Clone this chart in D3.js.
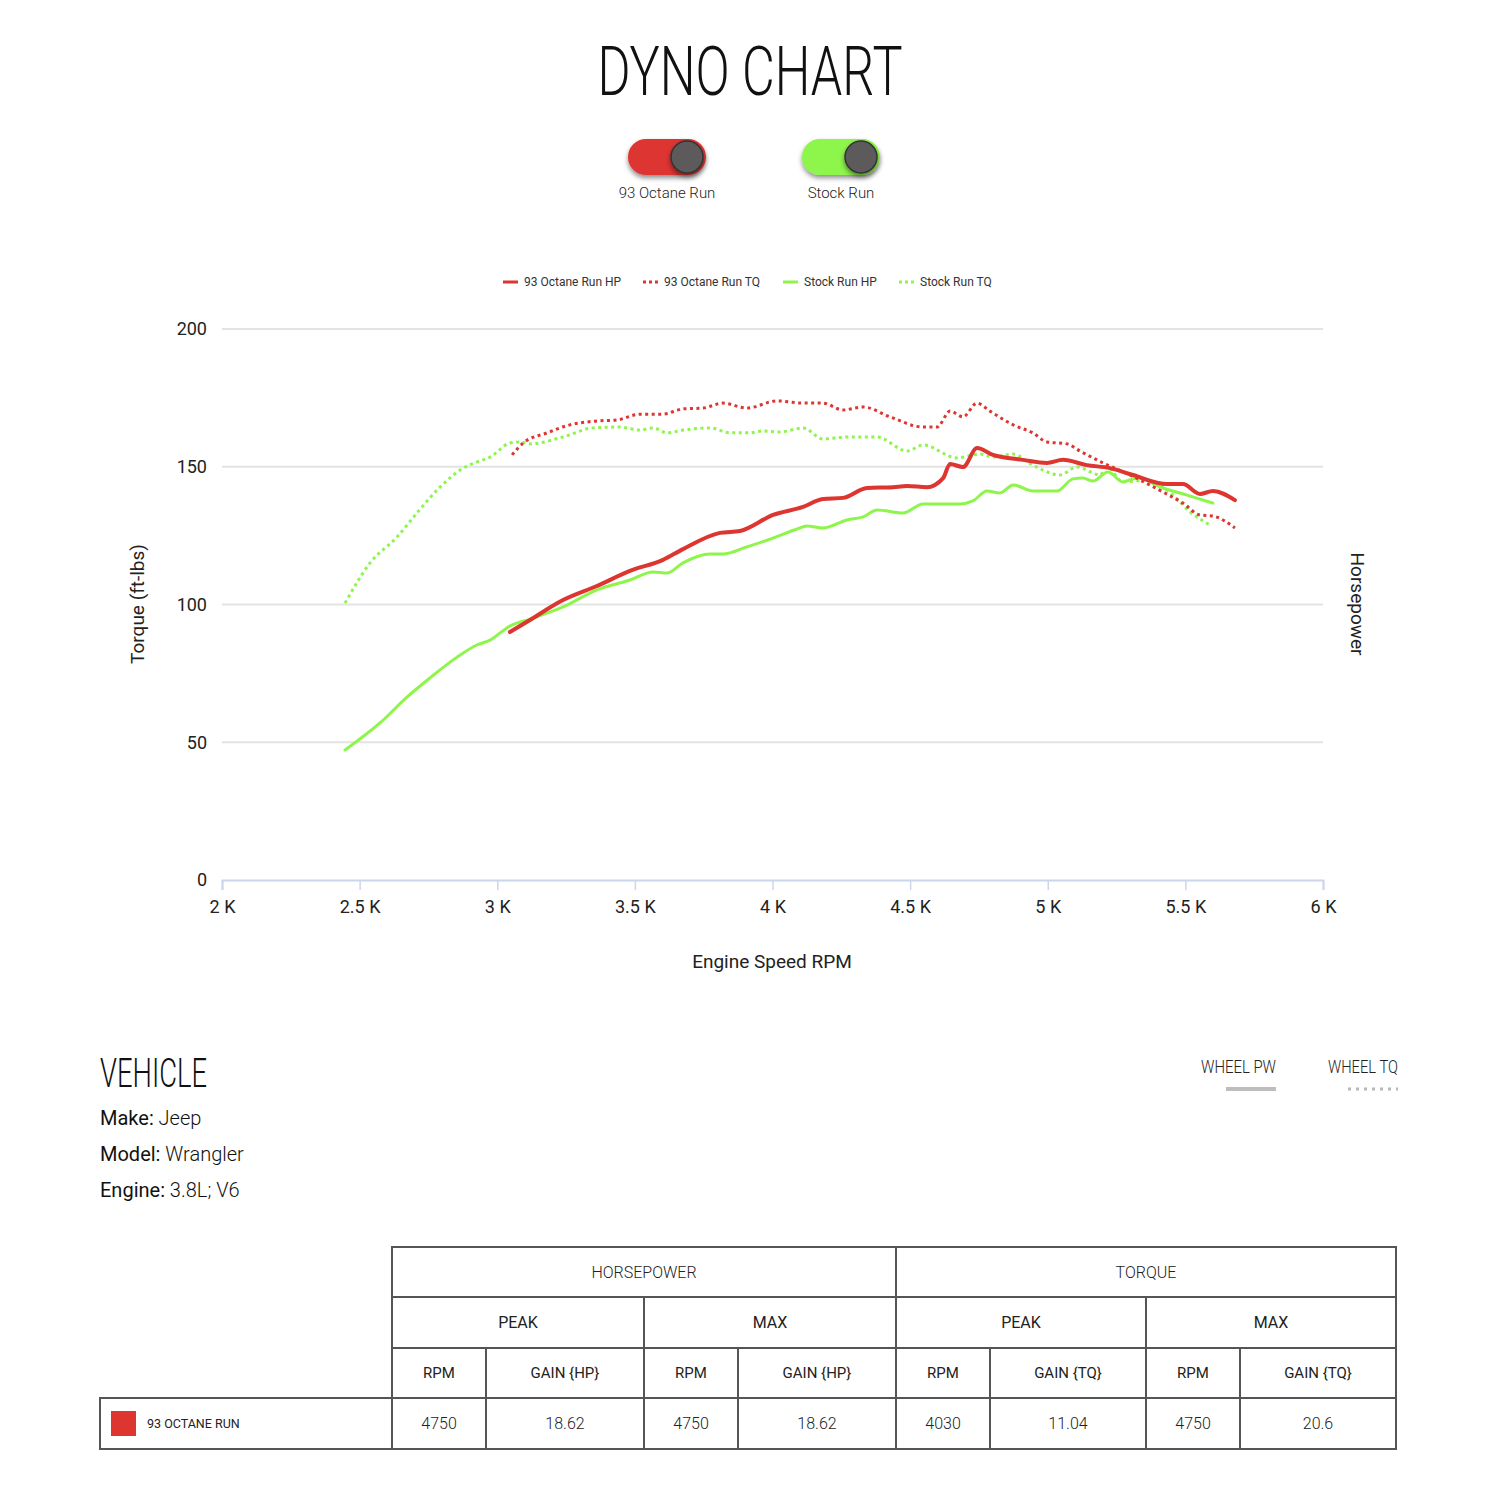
<!DOCTYPE html>
<html>
<head>
<meta charset="utf-8">
<script src="https://cdn.jsdelivr.net/npm/d3@7"></script>
<style>
  body { margin: 0; background: #fff; }
  svg { display: block; font-family: Roboto, "Noto Sans", sans-serif; }
</style>
</head>
<body>
<div id="dyno"></div>
<script>
// rpm, value pairs
const octaneHp = [
  [3046, 90.0], [3119, 94.4], [3239, 101.6], [3362, 106.7], [3482, 112.2], [3602, 116.2],
  [3675, 120.1], [3809, 126.0], [3882, 126.7], [4002, 132.5], [4111, 135.4], [4183, 138.3],
  [4256, 138.7], [4343, 142.3], [4438, 142.6], [4489, 143.0], [4561, 142.6], [4620, 145.9],
  [4645, 151.0], [4692, 149.9], [4743, 156.8], [4801, 154.3], [4910, 152.5], [4997, 151.4],
  [5055, 152.5], [5142, 150.6], [5226, 149.5], [5310, 147.0], [5433, 143.7], [5491, 143.7],
  [5553, 140.1], [5600, 141.2], [5680, 137.9]
];
const octaneTq = [
  [3054, 154.3], [3094, 158.6], [3181, 162.3], [3264, 165.2], [3362, 166.6], [3435, 167.0],
  [3519, 169.1], [3602, 169.1], [3675, 171.0], [3748, 171.3], [3820, 173.1], [3907, 171.3],
  [4016, 173.9], [4111, 173.1], [4183, 173.1], [4256, 170.6], [4329, 171.7], [4427, 168.1],
  [4547, 164.4], [4598, 164.4], [4645, 170.2], [4692, 168.1], [4743, 173.1], [4790, 170.2],
  [4874, 165.2], [4946, 162.3], [4997, 159.0], [5070, 158.3], [5117, 155.7], [5201, 151.4],
  [5299, 147.0], [5419, 140.8], [5491, 136.8], [5553, 132.5], [5600, 132.1], [5680, 127.8]
];
const stockHp = [
  [2447, 47.2], [2574, 57.0], [2672, 66.4], [2755, 73.3], [2854, 80.9], [2926, 85.3],
  [2974, 87.1], [3046, 92.2], [3119, 94.7], [3239, 99.1], [3362, 105.3], [3482, 108.9],
  [3566, 111.8], [3617, 111.4], [3675, 115.1], [3773, 118.3], [3820, 118.3], [3907, 120.9],
  [4002, 124.1], [4089, 127.4], [4125, 128.5], [4183, 127.8], [4271, 130.7], [4329, 131.8],
  [4380, 134.3], [4474, 133.2], [4547, 136.5], [4681, 136.5], [4728, 137.6], [4779, 141.2],
  [4827, 140.5], [4874, 143.4], [4946, 141.2], [5033, 141.2], [5092, 145.6], [5128, 145.9],
  [5164, 144.8], [5219, 148.1], [5273, 144.5], [5324, 145.9], [5419, 142.3], [5506, 139.7],
  [5600, 136.8]
];
const stockTq = [
  [2447, 100.5], [2538, 115.1], [2636, 124.5], [2708, 133.2], [2792, 142.6], [2876, 149.5],
  [2926, 151.7], [2974, 153.5], [3046, 158.6], [3083, 159.0], [3119, 158.3], [3239, 160.8],
  [3348, 164.1], [3446, 164.4], [3519, 163.3], [3566, 164.1], [3617, 162.3], [3675, 163.3],
  [3773, 164.1], [3846, 162.3], [3918, 162.3], [3965, 163.0], [4027, 162.6], [4111, 164.1],
  [4183, 160.1], [4271, 160.8], [4380, 160.8], [4489, 155.7], [4547, 157.9], [4670, 153.2],
  [4754, 154.6], [4801, 153.5], [4874, 154.6], [4946, 150.6], [5044, 147.0], [5106, 149.9],
  [5190, 147.0], [5215, 149.9], [5273, 144.5], [5361, 145.2], [5455, 139.7], [5517, 133.6],
  [5589, 128.9]
];

const runs = ["93 Octane Run", "Stock Run"];
const runColors = ["#dd3530", "#8ef54b"];
const seriesNames = ["93 Octane Run HP", "93 Octane Run TQ", "Stock Run HP", "Stock Run TQ"];
const rpmTicks = [2000, 2500, 3000, 3500, 4000, 4500, 5000, 5500, 6000];
const torqueTicks = [0, 50, 100, 150, 200];

const vehicleKeys = ["Make:", "Model:", "Engine:"];
const vehicleValues = ["Jeep", "Wrangler", "3.8L; V6"];

const groupHeaders = ["HORSEPOWER", "TORQUE"];
const subHeaders = ["PEAK", "MAX", "PEAK", "MAX"];
const colHeaders = ["RPM", "GAIN {HP}", "RPM", "GAIN {HP}", "RPM", "GAIN {TQ}", "RPM", "GAIN {TQ}"];
const rowLabels = ["93 OCTANE RUN"];
const rowValues = [["4750", "18.62", "4750", "18.62", "4030", "11.04", "4750", "20.6"]];

const width = 1500, height = 1500;
const svg = d3.select("#dyno").append("svg")
  .attr("width", width)
  .attr("height", height);

const defs = svg.append("defs");
defs.append("filter").attr("id", "shadow")
  .attr("x", "-30%").attr("y", "-30%").attr("width", "160%").attr("height", "180%")
  .append("feDropShadow")
  .attr("dx", 0).attr("dy", 3).attr("stdDeviation", 2.5)
  .attr("flood-color", "#000").attr("flood-opacity", 0.45);

// Title
svg.append("text")
  .attr("x", 750).attr("y", 95)
  .attr("text-anchor", "middle")
  .attr("textLength", 305).attr("lengthAdjust", "spacingAndGlyphs")
  .style("font-size", "68px").style("font-weight", 300)
  .attr("fill", "#111")
  .text("DYNO CHART");

// Run toggles
const toggle = svg.append("g").selectAll("g")
  .data(runs)
  .join("g")
  .attr("transform", (d, i) => `translate(${667 + i * 174}, 157)`);

toggle.append("rect")
  .attr("x", -39).attr("y", -18).attr("width", 78).attr("height", 36).attr("rx", 18)
  .attr("fill", (d, i) => runColors[i])
  .attr("filter", "url(#shadow)");
toggle.append("circle")
  .attr("cx", 20).attr("cy", 0).attr("r", 16)
  .attr("fill", "#5c5a5a")
  .attr("stroke", "#333").attr("stroke-width", 1.5)
  .attr("filter", "url(#shadow)");
toggle.append("text")
  .attr("y", 41)
  .attr("text-anchor", "middle")
  .style("font-size", "15px").style("font-weight", 300)
  .attr("fill", "#222")
  .text(d => d);

// Scales
const x = d3.scaleLinear().domain([2000, 6000]).range([222, 1323]);
const y = d3.scaleLinear().domain([0, 200]).range([880, 329]);

// Gridlines
svg.append("g").selectAll("line")
  .data(torqueTicks.filter(d => d > 0))
  .join("line")
  .attr("x1", x.range()[0]).attr("x2", x.range()[1])
  .attr("y1", d => y(d)).attr("y2", d => y(d))
  .attr("stroke", "#e3e3e3").attr("stroke-width", 2);

// Y labels
svg.append("g").selectAll("text")
  .data(torqueTicks)
  .join("text")
  .attr("x", 207).attr("y", d => y(d))
  .attr("dy", "0.35em")
  .attr("text-anchor", "end")
  .style("font-size", "18px")
  .attr("fill", "#222")
  .text(d => d);

// X axis
const xAxis = svg.append("g")
  .attr("transform", `translate(0, ${y(0)})`)
  .call(d3.axisBottom(x).tickValues(rpmTicks).tickSize(10).tickPadding(10)
    .tickFormat(d => d / 1000 + " K"));
xAxis.select(".domain").attr("stroke", "#ccd6eb").attr("stroke-width", 2);
xAxis.selectAll(".tick line").attr("stroke", "#ccd6eb").attr("stroke-width", 1.5);
xAxis.selectAll(".tick text")
  .attr("fill", "#222")
  .style("font-size", "18px")
  .style("font-family", "Roboto, sans-serif");

// Axis titles
svg.append("text")
  .attr("x", 772).attr("y", 968)
  .attr("text-anchor", "middle")
  .style("font-size", "19px")
  .attr("fill", "#222")
  .text("Engine Speed RPM");
svg.append("text")
  .attr("transform", "translate(144, 604) rotate(-90)")
  .attr("text-anchor", "middle")
  .style("font-size", "19px")
  .attr("fill", "#222")
  .text("Torque (ft-lbs)");
svg.append("text")
  .attr("transform", "translate(1351, 604) rotate(90)")
  .attr("text-anchor", "middle")
  .style("font-size", "19px")
  .attr("fill", "#222")
  .text("Horsepower");

// Lines
const line = d3.line()
  .x(d => x(d[0]))
  .y(d => y(d[1]))
  .curve(d3.curveMonotoneX);

const series = [
  { name: seriesNames[0], data: octaneHp, color: runColors[0], width: 4, dash: null },
  { name: seriesNames[1], data: octaneTq, color: runColors[0], width: 3, dash: "3,3.5" },
  { name: seriesNames[2], data: stockHp, color: runColors[1], width: 3, dash: null },
  { name: seriesNames[3], data: stockTq, color: runColors[1], width: 3, dash: "3,3.5" }
];
const drawOrder = [3, 2, 1, 0];

svg.append("g").selectAll("path")
  .data(drawOrder.map(i => series[i]))
  .join("path")
  .attr("d", d => line(d.data))
  .attr("fill", "none")
  .attr("stroke", d => d.color)
  .attr("stroke-width", d => d.width)
  .attr("stroke-dasharray", d => d.dash)
  .attr("stroke-linejoin", "round")
  .attr("stroke-linecap", d => d.dash ? "butt" : "round");

// Legend
const legendX = [503, 643, 783, 899];
const legend = svg.append("g").selectAll("g")
  .data(series)
  .join("g")
  .attr("transform", (d, i) => `translate(${legendX[i]}, 282)`);
legend.append("line")
  .attr("x1", 0).attr("x2", 15)
  .attr("stroke", d => d.color)
  .attr("stroke-width", 3)
  .attr("stroke-dasharray", d => d.dash ? "3,3" : null);
legend.append("text")
  .attr("x", 21).attr("dy", "0.35em")
  .style("font-size", "12px")
  .attr("fill", "#333")
  .text(d => d.name);

// Vehicle block
svg.append("text")
  .attr("x", 100).attr("y", 1087)
  .attr("textLength", 107).attr("lengthAdjust", "spacingAndGlyphs")
  .style("font-size", "40px").style("font-weight", 300)
  .attr("fill", "#111")
  .text("VEHICLE");

const vehicle = svg.append("g").selectAll("text")
  .data(vehicleKeys)
  .join("text")
  .attr("x", 100)
  .attr("y", (d, i) => 1125 + i * 36)
  .style("font-size", "20px")
  .attr("fill", "#111");
vehicle.append("tspan").style("font-weight", 400).text(d => d);
vehicle.append("tspan").style("font-weight", 300).text((d, i) => " " + vehicleValues[i]);

// Wheel PW / TQ key
const wheelKeys = ["WHEEL PW", "WHEEL TQ"];
const wheel = svg.append("g").selectAll("g")
  .data(wheelKeys)
  .join("g")
  .attr("transform", (d, i) => `translate(${1276 + i * 122}, 0)`);
wheel.append("text")
  .attr("y", 1073)
  .attr("text-anchor", "end")
  .attr("textLength", (d, i) => i ? 70 : 75).attr("lengthAdjust", "spacingAndGlyphs")
  .style("font-size", "18px").style("font-weight", 300)
  .attr("fill", "#222")
  .text(d => d);
wheel.append("line")
  .attr("x1", -50).attr("x2", 0)
  .attr("y1", 1089).attr("y2", 1089)
  .attr("stroke", (d, i) => i ? "#b8b8b8" : "#bdbdbd")
  .attr("stroke-width", (d, i) => i ? 3 : 4)
  .attr("stroke-dasharray", (d, i) => i ? "3,5" : null);

// Results table
const colEdges = [392, 486, 644, 738, 896, 990, 1146, 1240, 1396];
const rowEdges = [1247, 1297, 1348, 1398, 1449];
const borderColor = "#555";
const table = svg.append("g");

const cellText = (cx, cy, text, size, weight) => table.append("text")
  .attr("x", cx).attr("y", cy).attr("dy", "0.35em")
  .attr("text-anchor", "middle")
  .style("font-size", size).style("font-weight", weight)
  .attr("fill", "#222")
  .text(text);

const cells = [];
groupHeaders.forEach((t, i) => cells.push({ c0: i * 4, c1: i * 4 + 4, r: 0, text: t, size: "16px", weight: 300 }));
subHeaders.forEach((t, i) => cells.push({ c0: i * 2, c1: i * 2 + 2, r: 1, text: t, size: "16px", weight: 400 }));
colHeaders.forEach((t, i) => cells.push({ c0: i, c1: i + 1, r: 2, text: t, size: "15px", weight: 400 }));
rowValues.forEach((row, ri) => row.forEach((t, i) =>
  cells.push({ c0: i, c1: i + 1, r: 3 + ri, text: t, size: "16px", weight: 300 })));

cells.forEach(d => {
  table.append("rect")
    .attr("x", colEdges[d.c0]).attr("y", rowEdges[d.r])
    .attr("width", colEdges[d.c1] - colEdges[d.c0])
    .attr("height", rowEdges[d.r + 1] - rowEdges[d.r])
    .attr("fill", "none").attr("stroke", borderColor).attr("stroke-width", 2);
  cellText((colEdges[d.c0] + colEdges[d.c1]) / 2, (rowEdges[d.r] + rowEdges[d.r + 1]) / 2,
    d.text, d.size, d.weight);
});

rowLabels.forEach((t, ri) => {
  const top = rowEdges[3 + ri], bottom = rowEdges[4 + ri];
  table.append("rect")
    .attr("x", 100).attr("y", top)
    .attr("width", colEdges[0] - 100).attr("height", bottom - top)
    .attr("fill", "none").attr("stroke", borderColor).attr("stroke-width", 2);
  table.append("rect")
    .attr("x", 111).attr("y", top + 13).attr("width", 25).attr("height", 25)
    .attr("fill", runColors[ri]);
  table.append("text")
    .attr("x", 147).attr("y", (top + bottom) / 2).attr("dy", "0.35em")
    .style("font-size", "12.5px").style("font-weight", 400)
    .attr("fill", "#222")
    .text(t);
});
</script>
</body>
</html>
